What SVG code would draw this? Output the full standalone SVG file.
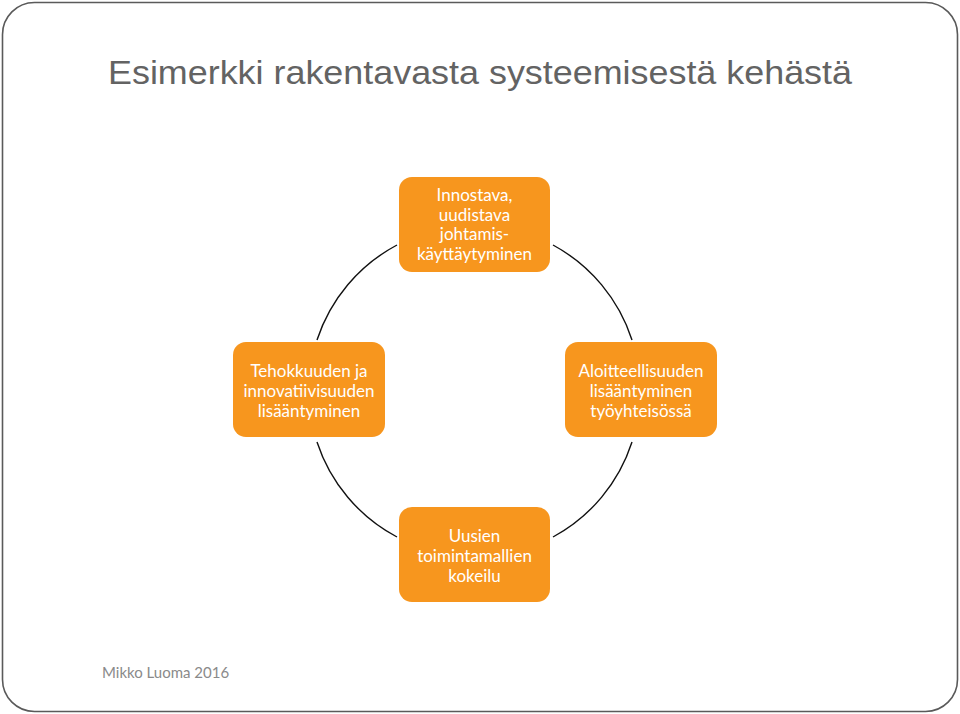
<svg xmlns="http://www.w3.org/2000/svg" width="960" height="714" viewBox="0 0 960 714">
<style>
.frame{fill:#fff;stroke:#5a5a5a;stroke-width:1.6}
.title{font-family:"Liberation Sans",Arial,sans-serif;font-size:33px;fill:#636363}
.foot{font-family:Lato,"Liberation Sans",sans-serif;font-size:15px;fill:#8a8a8a}
.box{fill:#F7961E}
.lbl{font-family:Lato,"Open Sans",sans-serif;font-size:17px;fill:#fff;text-anchor:middle}
.arc{fill:none;stroke:#111;stroke-width:1.4}
</style>
<rect class="frame" x="2.5" y="2.5" width="955" height="709" rx="32"/>
<text class="title" x="108" y="84" textLength="744" lengthAdjust="spacingAndGlyphs">Esimerkki rakentavasta systeemisestä kehästä</text>
<g id="connectors">
<path class="arc" d="M317 340 A166 166 0 0 1 397 245"/>
<path class="arc" d="M553 245 A166 166 0 0 1 632 340"/>
<path class="arc" d="M632 442 A166 166 0 0 1 553 537"/>
<path class="arc" d="M397 537 A166 166 0 0 1 317 442"/>
</g>
<g id="n-top">
<rect class="box" x="399" y="177" width="151" height="95" rx="13"/>
<text class="lbl"><tspan x="474.5" y="201">Innostava,</tspan><tspan x="474.5" y="220.5">uudistava</tspan><tspan x="474.5" y="240">johtamis-</tspan><tspan x="474.5" y="259.5">käyttäytyminen</tspan></text>
</g>
<g id="n-left">
<rect class="box" x="233" y="342" width="152" height="95" rx="13"/>
<text class="lbl"><tspan x="309" y="377">Tehokkuuden ja</tspan><tspan x="309" y="397">innovatiivisuuden</tspan><tspan x="309" y="417">lisääntyminen</tspan></text>
</g>
<g id="n-right">
<rect class="box" x="565" y="342" width="152" height="95" rx="13"/>
<text class="lbl"><tspan x="641" y="377">Aloitteellisuuden</tspan><tspan x="641" y="397">lisääntyminen</tspan><tspan x="641" y="417">työyhteisössä</tspan></text>
</g>
<g id="n-bottom">
<rect class="box" x="399" y="507" width="151" height="95" rx="13"/>
<text class="lbl"><tspan x="474.5" y="542">Uusien</tspan><tspan x="474.5" y="562">toimintamallien</tspan><tspan x="474.5" y="582">kokeilu</tspan></text>
</g>
<text class="foot" x="102" y="678">Mikko Luoma 2016</text>
</svg>
